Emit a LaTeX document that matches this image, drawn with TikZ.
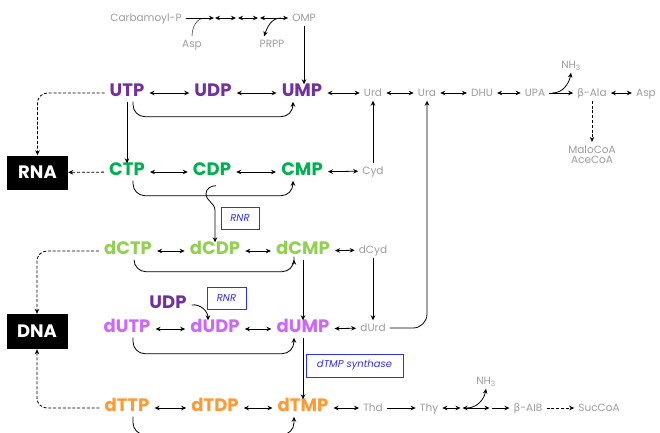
\documentclass[tikz,border=0pt]{standalone}
\usepackage{fontspec}
\setmainfont{Poppins}
\newfontfamily\grk{DejaVu Sans}
\usetikzlibrary{arrows.meta,calc}
\definecolor{uCol}{HTML}{7030A0}
\definecolor{cCol}{HTML}{00B050}
\definecolor{dcCol}{HTML}{92D050}
\definecolor{duCol}{HTML}{CC66FF}
\definecolor{dtCol}{HTML}{FF9933}
\definecolor{metCol}{HTML}{9C9C9C}
\definecolor{enzCol}{HTML}{2E2EFF}
\tikzset{
  nuc/.style = {font=\fontsize{18}{20}\selectfont\bfseries, text height=0.7em,
                text depth=0pt, inner sep=5pt},
  met/.style = {font=\fontsize{10.5}{12}\selectfont, text=metCol, text height=0.7em,
                text depth=0pt, inner sep=4pt},
  enz/.style = {draw=enzCol, text=enzCol, font=\fontsize{10}{11}\selectfont\itshape,
                line width=0.9pt, minimum height=22pt, inner xsep=3pt},
  acid/.style = {fill=black, text=white, font=\fontsize{18}{20}\selectfont\bfseries,
                 minimum width=61pt, minimum height=34pt},
  arr/.style = {-{Stealth[length=5pt,width=4.5pt]}, line width=0.8pt},
  biarr/.style = {{Stealth[length=5pt,width=4.5pt]}-{Stealth[length=5pt,width=4.5pt]},
                  line width=0.8pt},
  darr/.style = {arr, dash pattern=on 3pt off 1.8pt}
}
\newcommand{\uturn}[3]{\draw[arr, rounded corners=12pt] ([xshift=6pt]#1.south) -- ++(0,-#3) -| ([xshift=-9pt]#2.south);}

\begin{document}
\begin{tikzpicture}[x=1pt, y=1pt]
	\clip (0,0) rectangle (660,-432);

	% De novo synthesis
	\node[met] (carbP) at (146,-18) {Carbamoyl-P};
	\node[met] (asp1) at (192,-44) {Asp};
	\node[met] (prpp) at (272,-44) {PRPP};
	\node[met] (omp) at (304,-18) {OMP};
	\coordinate (p1) at (214,-18);
	\coordinate (p2) at (237,-18);
	\coordinate (p3) at (259,-18);

	% Uridine row
	\node[nuc, text=uCol] (UTP) at (127,-93) {UTP};
	\node[nuc, text=uCol] (UDP) at (213,-93) {UDP};
	\node[nuc, text=uCol] (UMP) at (302,-93) {UMP};
	\node[met] (urd) at (373,-93) {Urd};
	\node[met] (ura) at (427,-93) {Ura};
	\node[met] (dhu) at (482,-93) {DHU};
	\node[met] (upa) at (535,-93) {UPA};
	\node[met] (bala) at (592,-93) {{\grk β}-Ala};
	\node[met] (asp2) at (646,-93) {Asp};
	\node[met] (nh3a) at (571,-65) {NH\textsubscript{3}};
	\node[met, align=center, text height=, text depth=] (malo) at (592,-155) {MaloCoA\\[-2pt]AceCoA};

	% Cytidine row
	\node[acid] (RNA) at (37.5,-172.5) {RNA};
	\node[nuc, text=cCol] (CTP) at (127,-172) {CTP};
	\node[nuc, text=cCol] (CDP) at (212,-172) {CDP};
	\node[nuc, text=cCol] (CMP) at (302,-172) {CMP};
	\node[met] (cyd) at (373,-171) {Cyd};
	\node[enz, minimum width=38pt] (rnr1) at (240,-218) {RNR};

	% Deoxycytidine row
	\node[nuc, text=dcCol] (dCTP) at (128,-251) {dCTP};
	\node[nuc, text=dcCol] (dCDP) at (215,-251) {dCDP};
	\node[nuc, text=dcCol] (dCMP) at (303,-251) {dCMP};
	\node[met] (dcyd) at (373,-250) {dCyd};

	% Deoxyuridine row
	\node[nuc, text=uCol] (UDPb) at (168,-305) {UDP};
	\node[enz, minimum width=39pt] (rnr2) at (226.5,-298) {RNR};
	\node[acid, minimum height=35pt] (DNA) at (37,-331.5) {DNA};
	\node[nuc, text=duCol] (dUTP) at (127,-329) {dUTP};
	\node[nuc, text=duCol] (dUDP) at (215,-329) {dUDP};
	\node[nuc, text=duCol] (dUMP) at (303,-329) {dUMP};
	\node[met] (durd) at (373,-328) {dUrd};
	\node[enz, minimum width=97pt, minimum height=23pt] (tms) at (354.5,-365.5) {dTMP synthase};

	% Thymidine row
	\node[nuc, text=dtCol] (dTTP) at (127,-408) {dTTP};
	\node[nuc, text=dtCol] (dTDP) at (215,-408) {dTDP};
	\node[nuc, text=dtCol] (dTMP) at (303,-408) {dTMP};
	\node[met] (thd) at (373,-408) {Thd};
	\node[met] (thy) at (429,-408) {Thy};
	\node[met] (nh3b) at (486,-381) {NH\textsubscript{3}};
	\node[met] (baib) at (528,-408) {{\grk β}-AIB};
	\node[met] (succoa) at (599,-408) {SucCoA};
	\coordinate (t1) at (461.5,-408);
	\coordinate (t2) at (490.5,-408);

	% Arrows, de novo
	\draw[arr] (carbP) -- (p1);
	\draw (asp1.north) to[out=90,in=180] ($(p1)+(-9,0)$);
	\draw[biarr, shorten <=1pt, shorten >=1pt] (p1) -- (p2);
	\draw[biarr, shorten <=1pt, shorten >=1pt] (p2) -- (p3);
	\draw[biarr, shorten <=1pt] (p3) -- (omp);
	\draw[arr] ($(p3)+(22,0)$) to[out=180,in=70] ([xshift=-8pt]prpp.north);
	\draw[arr] (omp.south) -- (omp.south |- UMP.north);

	% Arrows, ribonucleotides
	\draw[biarr] (UTP) -- (UDP);
	\draw[biarr] (UDP) -- (UMP);
	\draw[biarr] (UMP) -- (urd);
	\draw[biarr] (urd) -- (ura);
	\draw[biarr] (ura) -- (dhu);
	\draw[biarr] (dhu) -- (upa);
	\draw[arr] (upa) -- (bala);
	\draw[arr] ([xshift=3pt]upa.east) to[out=0,in=-100] (nh3a.south);
	\draw[biarr] (bala) -- (asp2);
	\draw[darr] (bala) -- (malo);
	\uturn{UTP}{UMP}{15}
	\draw[arr] (UTP) -- (CTP);
	\draw[darr, rounded corners=10pt] (UTP.west) -| (RNA.north);
	\draw[darr] (CTP) -- (RNA);
	\draw[biarr] (CTP) -- (CDP);
	\draw[biarr] (CDP) -- (CMP);
	\draw[biarr] (CMP) -- (cyd);
	\draw[arr] (cyd) -- (urd);
	\uturn{CTP}{CMP}{15}
	\draw[arr] ([xshift=4pt,yshift=-5pt]CDP.south) to[out=180,in=90] ++(-10,-8)
		to[out=-90,in=90] ($(dCDP.north)+(0,32)$) -- (dCDP.north);

	% Arrows, deoxyribonucleotides
	\draw[biarr] (dCTP) -- (dCDP);
	\draw[biarr] (dCDP) -- (dCMP);
	\draw[biarr] (dCMP) -- (dcyd);
	\draw[darr, rounded corners=10pt] (dCTP.west) -| (DNA.north);
	\uturn{dCTP}{dCMP}{12}
	\draw[arr] (dCMP) -- (dUMP);
	\draw[arr] (dcyd) -- (durd);
	\draw[arr] (UDPb.east) to[out=10,in=90] ([xshift=-7pt]dUDP.north);
	\draw[biarr] (dUTP) -- (dUDP);
	\draw[biarr] (dUDP) -- (dUMP);
	\draw[biarr] (dUMP) -- (durd);
	\draw[arr, rounded corners=14pt] (durd.east) -| (ura.south);
	\uturn{dUTP}{dUMP}{16}
	\draw[arr] (dUMP) -- (dTMP);

	% Arrows, thymidine
	\draw[darr, rounded corners=10pt] (dTTP.west) -| (DNA.south);
	\draw[biarr] (dTTP) -- (dTDP);
	\draw[biarr] (dTDP) -- (dTMP);
	\draw[biarr] (dTMP) -- (thd);
	\draw[arr] (thd) -- (thy);
	\draw[biarr, shorten >=1pt] (thy) -- (t1);
	\draw[biarr, shorten <=1pt, shorten >=1pt] (t1) -- (t2);
	\draw[arr] ($(t1)+(5,0)$) to[out=0,in=-100] (nh3b.south);
	\draw[arr, shorten <=1pt] (t2) -- (baib);
	\draw[darr] (baib) -- (succoa);
	\uturn{dTTP}{dTMP}{18}
\end{tikzpicture}
\end{document}
